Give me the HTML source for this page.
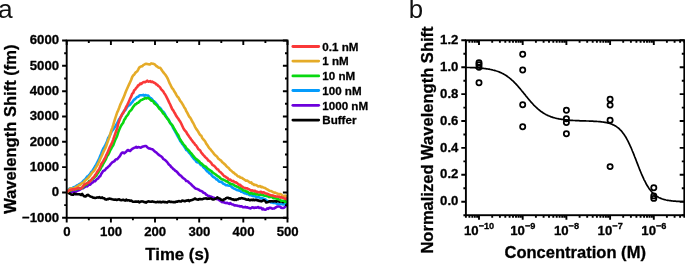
<!DOCTYPE html>
<html><head><meta charset="utf-8"><title>Figure</title>
<style>
html,body{margin:0;padding:0;background:#fff;}
body{width:685px;height:264px;overflow:hidden;font-family:"Liberation Sans",sans-serif;}
svg{display:block;will-change:transform;}
</style></head><body>
<svg width="685" height="264" viewBox="0 0 685 264" font-family="'Liberation Sans', sans-serif">
<rect width="685" height="264" fill="#ffffff"/>
<text x="-1.9" y="17.9" font-size="26.3" fill="#111">a</text>
<text x="408.8" y="18.4" font-size="25.8" fill="#111">b</text>
<defs><clipPath id="ca"><rect x="66.7" y="40.5" width="221.4" height="177.3"/></clipPath></defs>
<g fill="none" stroke-width="2.6" stroke-linejoin="round" stroke-linecap="round" clip-path="url(#ca)">
<path d="M67.2,192.0 L68.2,191.9 L69.2,192.0 L70.2,192.1 L71.2,191.7 L72.2,191.9 L73.2,191.8 L74.2,191.2 L75.2,191.8 L76.2,191.5 L77.2,190.8 L78.2,190.4 L79.2,190.1 L80.2,189.4 L81.2,188.9 L82.2,188.0 L83.2,188.1 L84.2,187.4 L85.2,186.9 L86.2,185.8 L87.2,186.3 L88.2,185.3 L89.2,184.5 L90.2,184.7 L91.2,183.5 L92.2,182.5 L93.2,182.2 L94.2,180.9 L95.2,181.1 L96.2,179.8 L97.2,178.8 L98.2,178.5 L99.2,176.6 L100.2,176.2 L101.2,174.0 L102.2,172.6 L103.2,170.9 L104.2,170.6 L105.2,169.9 L106.2,168.4 L107.2,167.8 L108.2,166.7 L109.2,166.0 L110.2,164.7 L111.2,163.5 L112.2,162.3 L113.2,161.8 L114.2,161.4 L115.2,160.1 L116.2,159.3 L117.2,159.3 L118.2,158.0 L119.2,156.9 L120.2,155.5 L121.2,153.7 L122.2,152.6 L123.2,152.5 L124.2,153.4 L125.2,152.5 L126.2,151.7 L127.2,150.5 L128.2,150.0 L129.2,150.8 L130.2,151.0 L131.2,149.7 L132.2,148.9 L133.2,148.3 L134.2,147.8 L135.2,147.6 L136.2,146.9 L137.2,147.6 L138.2,147.1 L139.2,147.3 L140.2,147.6 L141.2,147.5 L142.2,146.7 L143.2,146.4 L144.2,146.2 L145.2,146.0 L146.2,146.0 L147.2,147.3 L148.2,148.0 L149.2,148.5 L150.2,148.6 L151.2,149.0 L152.2,149.2 L153.2,149.8 L154.2,151.0 L155.2,151.8 L156.2,152.4 L157.2,153.4 L158.2,154.4 L159.2,155.1 L160.2,155.8 L161.2,156.3 L162.2,157.3 L163.2,158.9 L164.2,159.5 L165.2,160.1 L166.2,161.1 L167.2,162.1 L168.2,163.6 L169.2,164.8 L170.2,165.5 L171.2,167.2 L172.2,167.7 L173.2,169.1 L174.2,169.5 L175.2,170.8 L176.2,171.2 L177.2,172.2 L178.2,173.4 L179.2,174.6 L180.2,175.4 L181.2,175.9 L182.2,177.3 L183.2,178.1 L184.2,178.8 L185.2,179.5 L186.2,180.9 L187.2,181.0 L188.2,181.6 L189.2,182.8 L190.2,183.5 L191.2,184.4 L192.2,185.6 L193.2,186.4 L194.2,187.3 L195.2,188.3 L196.2,188.7 L197.2,188.9 L198.2,189.5 L199.2,190.0 L200.2,190.8 L201.2,191.0 L202.2,191.4 L203.2,192.6 L204.2,192.9 L205.2,193.4 L206.2,194.8 L207.2,195.1 L208.2,196.0 L209.2,196.1 L210.2,196.4 L211.2,196.7 L212.2,197.3 L213.2,197.7 L214.2,197.8 L215.2,198.3 L216.2,198.4 L217.2,199.2 L218.2,199.1 L219.2,200.1 L220.2,200.8 L221.2,201.4 L222.2,202.1 L223.2,201.5 L224.2,202.5 L225.2,202.9 L226.2,203.1 L227.2,202.8 L228.2,203.4 L229.2,203.9 L230.2,203.1 L231.2,203.9 L232.2,204.5 L233.2,204.5 L234.2,205.4 L235.2,205.3 L236.2,205.5 L237.2,205.6 L238.2,206.0 L239.2,206.0 L240.2,206.5 L241.2,206.2 L242.2,206.7 L243.2,207.3 L244.2,207.3 L245.2,206.8 L246.2,207.5 L247.2,207.3 L248.2,207.7 L249.2,208.0 L250.2,208.4 L251.2,208.1 L252.2,207.4 L253.2,207.5 L254.2,208.0 L255.2,207.6 L256.2,207.8 L257.2,207.4 L258.2,207.1 L259.2,207.9 L260.2,207.8 L261.2,207.8 L262.2,209.4 L263.2,208.6 L264.2,209.6 L265.2,209.8 L266.2,209.3 L267.2,208.3 L268.2,208.8 L269.2,207.8 L270.2,207.8 L271.2,208.1 L272.2,208.6 L273.2,208.5 L274.2,208.5 L275.2,207.7 L276.2,207.3 L277.2,206.6 L278.2,206.4 L279.2,206.6 L280.2,206.8 L281.2,207.7 L282.2,208.0 L283.2,208.0 L284.2,207.6 L285.2,206.6 L286.2,206.0 L287.2,205.3" stroke="#6C00DC"/>
<path d="M67.2,192.0 L68.2,190.0 L69.2,188.9 L70.2,188.2 L71.2,188.3 L72.2,188.3 L73.2,187.5 L74.2,187.1 L75.2,186.8 L76.2,186.0 L77.2,185.2 L78.2,185.0 L79.2,184.1 L80.2,183.6 L81.2,183.1 L82.2,182.3 L83.2,181.0 L84.2,180.1 L85.2,179.4 L86.2,178.2 L87.2,176.5 L88.2,176.3 L89.2,174.8 L90.2,173.8 L91.2,172.0 L92.2,171.5 L93.2,169.4 L94.2,168.0 L95.2,166.1 L96.2,164.7 L97.2,162.7 L98.2,160.7 L99.2,158.7 L100.2,156.0 L101.2,153.7 L102.2,151.0 L103.2,148.8 L104.2,147.2 L105.2,145.4 L106.2,143.4 L107.2,141.0 L108.2,138.0 L109.2,136.5 L110.2,134.7 L111.2,132.4 L112.2,130.7 L113.2,129.6 L114.2,127.9 L115.2,126.7 L116.2,124.7 L117.2,123.2 L118.2,121.1 L119.2,119.0 L120.2,117.8 L121.2,116.3 L122.2,114.3 L123.2,112.7 L124.2,110.7 L125.2,110.3 L126.2,108.7 L127.2,107.0 L128.2,105.9 L129.2,105.2 L130.2,104.4 L131.2,103.1 L132.2,102.2 L133.2,100.7 L134.2,99.5 L135.2,99.0 L136.2,97.9 L137.2,97.0 L138.2,96.8 L139.2,95.6 L140.2,95.2 L141.2,95.2 L142.2,95.2 L143.2,94.9 L144.2,95.6 L145.2,95.0 L146.2,95.3 L147.2,95.5 L148.2,95.6 L149.2,96.8 L150.2,97.8 L151.2,98.4 L152.2,99.4 L153.2,101.0 L154.2,101.3 L155.2,102.3 L156.2,103.7 L157.2,104.7 L158.2,106.5 L159.2,107.3 L160.2,108.1 L161.2,109.3 L162.2,111.5 L163.2,111.6 L164.2,112.8 L165.2,114.6 L166.2,116.4 L167.2,118.0 L168.2,119.3 L169.2,120.8 L170.2,122.9 L171.2,124.3 L172.2,125.5 L173.2,128.2 L174.2,129.9 L175.2,131.5 L176.2,133.3 L177.2,135.4 L178.2,137.1 L179.2,138.8 L180.2,141.1 L181.2,142.1 L182.2,144.0 L183.2,144.8 L184.2,146.6 L185.2,148.0 L186.2,150.0 L187.2,150.4 L188.2,151.5 L189.2,152.9 L190.2,153.9 L191.2,155.2 L192.2,156.7 L193.2,157.9 L194.2,159.3 L195.2,159.7 L196.2,161.7 L197.2,162.3 L198.2,162.6 L199.2,162.8 L200.2,164.4 L201.2,165.3 L202.2,165.4 L203.2,167.1 L204.2,168.0 L205.2,168.8 L206.2,170.2 L207.2,171.4 L208.2,171.9 L209.2,173.1 L210.2,173.8 L211.2,174.6 L212.2,175.8 L213.2,176.9 L214.2,177.5 L215.2,177.9 L216.2,179.4 L217.2,179.4 L218.2,180.6 L219.2,181.7 L220.2,181.8 L221.2,182.0 L222.2,182.5 L223.2,183.8 L224.2,184.0 L225.2,184.7 L226.2,185.3 L227.2,185.3 L228.2,185.6 L229.2,185.8 L230.2,185.6 L231.2,186.6 L232.2,187.5 L233.2,188.0 L234.2,188.7 L235.2,189.0 L236.2,189.6 L237.2,190.2 L238.2,190.1 L239.2,190.7 L240.2,190.7 L241.2,191.8 L242.2,191.9 L243.2,192.5 L244.2,193.1 L245.2,193.4 L246.2,193.5 L247.2,194.1 L248.2,193.9 L249.2,194.9 L250.2,195.2 L251.2,194.9 L252.2,196.0 L253.2,195.7 L254.2,196.3 L255.2,196.3 L256.2,197.0 L257.2,197.4 L258.2,197.1 L259.2,197.3 L260.2,197.9 L261.2,198.4 L262.2,198.1 L263.2,198.4 L264.2,199.4 L265.2,199.1 L266.2,200.4 L267.2,200.7 L268.2,201.7 L269.2,201.8 L270.2,202.0 L271.2,202.5 L272.2,202.3 L273.2,202.9 L274.2,202.9 L275.2,203.1 L276.2,203.2 L277.2,203.8 L278.2,203.7 L279.2,204.0 L280.2,204.1 L281.2,203.9 L282.2,204.3 L283.2,204.4 L284.2,204.4 L285.2,204.3 L286.2,204.3 L287.2,204.7" stroke="#049CFC"/>
<path d="M67.2,192.0 L68.2,192.4 L69.2,193.4 L70.2,193.7 L71.2,194.5 L72.2,194.7 L73.2,194.8 L74.2,193.5 L75.2,194.1 L76.2,194.0 L77.2,194.3 L78.2,194.2 L79.2,194.2 L80.2,194.5 L81.2,195.0 L82.2,194.0 L83.2,195.4 L84.2,196.3 L85.2,196.5 L86.2,196.0 L87.2,195.0 L88.2,194.9 L89.2,195.7 L90.2,196.4 L91.2,196.8 L92.2,197.1 L93.2,197.7 L94.2,197.7 L95.2,198.0 L96.2,197.8 L97.2,197.4 L98.2,197.6 L99.2,197.1 L100.2,197.7 L101.2,197.9 L102.2,197.4 L103.2,198.2 L104.2,198.2 L105.2,199.3 L106.2,199.6 L107.2,199.1 L108.2,199.2 L109.2,198.6 L110.2,198.7 L111.2,199.0 L112.2,199.3 L113.2,199.5 L114.2,199.7 L115.2,199.5 L116.2,199.9 L117.2,199.9 L118.2,199.5 L119.2,199.3 L120.2,200.1 L121.2,200.3 L122.2,200.0 L123.2,199.7 L124.2,200.2 L125.2,200.6 L126.2,199.6 L127.2,200.4 L128.2,200.3 L129.2,200.3 L130.2,200.9 L131.2,200.5 L132.2,201.3 L133.2,201.8 L134.2,201.7 L135.2,201.6 L136.2,201.5 L137.2,201.7 L138.2,201.4 L139.2,202.4 L140.2,201.8 L141.2,201.5 L142.2,201.4 L143.2,201.6 L144.2,202.1 L145.2,202.0 L146.2,202.7 L147.2,201.7 L148.2,201.4 L149.2,201.5 L150.2,201.8 L151.2,201.8 L152.2,201.4 L153.2,201.8 L154.2,201.9 L155.2,202.1 L156.2,202.2 L157.2,201.9 L158.2,201.9 L159.2,202.2 L160.2,201.7 L161.2,202.4 L162.2,202.0 L163.2,201.7 L164.2,202.1 L165.2,202.1 L166.2,202.3 L167.2,202.5 L168.2,201.6 L169.2,201.4 L170.2,202.0 L171.2,201.8 L172.2,202.0 L173.2,202.1 L174.2,202.0 L175.2,202.3 L176.2,201.6 L177.2,201.7 L178.2,201.3 L179.2,201.1 L180.2,201.5 L181.2,201.4 L182.2,200.6 L183.2,200.7 L184.2,201.1 L185.2,201.2 L186.2,200.6 L187.2,200.6 L188.2,200.1 L189.2,201.1 L190.2,200.4 L191.2,200.3 L192.2,199.9 L193.2,199.6 L194.2,199.0 L195.2,198.5 L196.2,199.2 L197.2,199.4 L198.2,199.8 L199.2,199.1 L200.2,199.0 L201.2,199.3 L202.2,199.3 L203.2,198.9 L204.2,198.5 L205.2,198.5 L206.2,198.3 L207.2,198.9 L208.2,198.5 L209.2,198.6 L210.2,198.5 L211.2,198.5 L212.2,199.2 L213.2,199.5 L214.2,199.2 L215.2,198.8 L216.2,198.4 L217.2,197.4 L218.2,198.1 L219.2,198.4 L220.2,198.9 L221.2,199.8 L222.2,200.0 L223.2,200.2 L224.2,199.2 L225.2,198.9 L226.2,198.1 L227.2,197.7 L228.2,197.7 L229.2,198.5 L230.2,198.2 L231.2,199.0 L232.2,199.4 L233.2,199.2 L234.2,200.0 L235.2,199.6 L236.2,199.9 L237.2,199.2 L238.2,199.3 L239.2,198.4 L240.2,198.6 L241.2,198.1 L242.2,198.2 L243.2,198.6 L244.2,198.8 L245.2,199.0 L246.2,199.5 L247.2,199.8 L248.2,199.3 L249.2,200.1 L250.2,200.2 L251.2,199.8 L252.2,200.1 L253.2,199.5 L254.2,200.3 L255.2,199.8 L256.2,199.9 L257.2,200.4 L258.2,200.2 L259.2,200.9 L260.2,200.9 L261.2,201.4 L262.2,201.0 L263.2,200.4 L264.2,200.4 L265.2,201.0 L266.2,202.4 L267.2,202.2 L268.2,201.9 L269.2,201.4 L270.2,201.4 L271.2,201.3 L272.2,201.3 L273.2,201.5 L274.2,201.3 L275.2,201.3 L276.2,201.6 L277.2,201.0 L278.2,201.2 L279.2,201.7 L280.2,201.4 L281.2,201.6 L282.2,201.4 L283.2,202.2 L284.2,201.1 L285.2,201.6 L286.2,201.7 L287.2,202.6" stroke="#000000"/>
<path d="M67.2,192.0 L68.2,191.4 L69.2,190.6 L70.2,190.6 L71.2,190.3 L72.2,189.8 L73.2,189.3 L74.2,189.2 L75.2,189.4 L76.2,189.3 L77.2,189.0 L78.2,188.7 L79.2,188.1 L80.2,188.5 L81.2,188.0 L82.2,187.9 L83.2,187.1 L84.2,185.7 L85.2,184.8 L86.2,184.7 L87.2,183.8 L88.2,182.7 L89.2,181.0 L90.2,180.9 L91.2,180.0 L92.2,179.4 L93.2,178.4 L94.2,177.7 L95.2,176.6 L96.2,175.8 L97.2,173.8 L98.2,172.6 L99.2,170.8 L100.2,169.5 L101.2,167.2 L102.2,166.0 L103.2,163.8 L104.2,162.0 L105.2,160.3 L106.2,158.4 L107.2,155.7 L108.2,154.8 L109.2,152.7 L110.2,150.2 L111.2,148.7 L112.2,146.7 L113.2,145.2 L114.2,142.5 L115.2,140.0 L116.2,138.0 L117.2,135.7 L118.2,132.3 L119.2,129.8 L120.2,127.5 L121.2,125.5 L122.2,124.0 L123.2,122.7 L124.2,119.8 L125.2,118.6 L126.2,116.6 L127.2,115.6 L128.2,114.2 L129.2,112.0 L130.2,110.9 L131.2,110.1 L132.2,108.5 L133.2,106.9 L134.2,105.7 L135.2,104.3 L136.2,104.2 L137.2,102.9 L138.2,102.7 L139.2,101.8 L140.2,100.7 L141.2,100.0 L142.2,99.8 L143.2,99.1 L144.2,98.7 L145.2,97.9 L146.2,98.5 L147.2,98.1 L148.2,97.9 L149.2,98.8 L150.2,99.6 L151.2,100.6 L152.2,100.5 L153.2,101.2 L154.2,103.3 L155.2,103.8 L156.2,104.8 L157.2,105.6 L158.2,106.8 L159.2,108.7 L160.2,109.3 L161.2,110.5 L162.2,111.7 L163.2,113.5 L164.2,114.1 L165.2,115.8 L166.2,117.1 L167.2,118.5 L168.2,119.5 L169.2,121.4 L170.2,123.1 L171.2,124.0 L172.2,125.2 L173.2,126.7 L174.2,128.8 L175.2,130.4 L176.2,132.1 L177.2,133.8 L178.2,135.0 L179.2,137.5 L180.2,139.4 L181.2,141.0 L182.2,142.4 L183.2,144.0 L184.2,145.1 L185.2,146.1 L186.2,148.1 L187.2,148.9 L188.2,150.0 L189.2,150.9 L190.2,152.5 L191.2,153.3 L192.2,154.6 L193.2,156.0 L194.2,157.0 L195.2,158.3 L196.2,159.1 L197.2,159.7 L198.2,160.6 L199.2,161.4 L200.2,162.7 L201.2,163.4 L202.2,164.1 L203.2,165.3 L204.2,165.9 L205.2,166.5 L206.2,167.0 L207.2,168.3 L208.2,169.0 L209.2,169.7 L210.2,170.4 L211.2,171.0 L212.2,172.0 L213.2,172.9 L214.2,173.5 L215.2,174.2 L216.2,174.9 L217.2,175.8 L218.2,176.5 L219.2,176.9 L220.2,178.1 L221.2,178.8 L222.2,179.4 L223.2,179.6 L224.2,180.2 L225.2,180.4 L226.2,181.5 L227.2,181.2 L228.2,182.3 L229.2,182.8 L230.2,183.7 L231.2,184.0 L232.2,184.2 L233.2,184.5 L234.2,185.2 L235.2,185.9 L236.2,186.3 L237.2,186.7 L238.2,187.1 L239.2,187.7 L240.2,188.5 L241.2,188.4 L242.2,189.3 L243.2,190.4 L244.2,190.6 L245.2,190.8 L246.2,191.6 L247.2,191.6 L248.2,192.3 L249.2,193.2 L250.2,193.6 L251.2,192.7 L252.2,193.5 L253.2,194.0 L254.2,193.4 L255.2,193.8 L256.2,194.4 L257.2,194.1 L258.2,194.7 L259.2,194.8 L260.2,194.4 L261.2,195.0 L262.2,194.8 L263.2,195.1 L264.2,195.7 L265.2,195.7 L266.2,195.7 L267.2,196.3 L268.2,196.5 L269.2,197.1 L270.2,196.7 L271.2,197.0 L272.2,197.0 L273.2,198.1 L274.2,198.1 L275.2,198.2 L276.2,198.5 L277.2,198.9 L278.2,199.2 L279.2,199.7 L280.2,200.0 L281.2,200.9 L282.2,200.8 L283.2,200.8 L284.2,201.1 L285.2,201.9 L286.2,201.9" stroke="#08D810"/>
<path d="M67.2,192.0 L68.2,190.7 L69.2,189.9 L70.2,188.6 L71.2,188.6 L72.2,188.4 L73.2,188.9 L74.2,188.2 L75.2,187.5 L76.2,186.8 L77.2,186.7 L78.2,185.8 L79.2,185.1 L80.2,185.0 L81.2,183.7 L82.2,183.0 L83.2,183.3 L84.2,181.5 L85.2,180.6 L86.2,179.6 L87.2,178.7 L88.2,177.9 L89.2,176.7 L90.2,175.4 L91.2,174.0 L92.2,172.5 L93.2,171.7 L94.2,170.6 L95.2,169.0 L96.2,167.0 L97.2,165.6 L98.2,163.4 L99.2,161.5 L100.2,159.0 L101.2,157.0 L102.2,154.8 L103.2,152.4 L104.2,150.4 L105.2,148.5 L106.2,146.0 L107.2,143.0 L108.2,140.3 L109.2,137.6 L110.2,134.3 L111.2,130.8 L112.2,128.1 L113.2,125.2 L114.2,121.7 L115.2,118.3 L116.2,115.3 L117.2,112.3 L118.2,110.3 L119.2,107.7 L120.2,104.9 L121.2,102.7 L122.2,100.6 L123.2,98.4 L124.2,96.1 L125.2,93.3 L126.2,90.7 L127.2,88.5 L128.2,86.3 L129.2,84.1 L130.2,82.0 L131.2,79.8 L132.2,77.0 L133.2,75.4 L134.2,74.7 L135.2,73.0 L136.2,72.0 L137.2,71.4 L138.2,69.6 L139.2,67.6 L140.2,66.9 L141.2,66.4 L142.2,66.3 L143.2,65.2 L144.2,64.7 L145.2,64.0 L146.2,63.7 L147.2,63.9 L148.2,64.3 L149.2,64.4 L150.2,64.5 L151.2,63.4 L152.2,63.6 L153.2,63.7 L154.2,64.1 L155.2,64.8 L156.2,66.0 L157.2,66.5 L158.2,67.4 L159.2,67.7 L160.2,67.8 L161.2,69.2 L162.2,70.8 L163.2,72.1 L164.2,73.4 L165.2,74.5 L166.2,76.0 L167.2,77.6 L168.2,79.8 L169.2,82.4 L170.2,84.3 L171.2,86.4 L172.2,88.3 L173.2,89.2 L174.2,91.3 L175.2,92.7 L176.2,94.7 L177.2,96.4 L178.2,97.2 L179.2,99.0 L180.2,100.8 L181.2,102.0 L182.2,103.6 L183.2,105.2 L184.2,107.3 L185.2,108.5 L186.2,111.0 L187.2,112.6 L188.2,114.6 L189.2,116.6 L190.2,117.7 L191.2,119.4 L192.2,121.5 L193.2,123.0 L194.2,125.0 L195.2,127.1 L196.2,128.9 L197.2,130.1 L198.2,131.7 L199.2,133.5 L200.2,135.1 L201.2,135.6 L202.2,138.0 L203.2,139.3 L204.2,140.2 L205.2,141.5 L206.2,143.6 L207.2,144.8 L208.2,146.5 L209.2,148.1 L210.2,149.0 L211.2,150.3 L212.2,151.5 L213.2,152.8 L214.2,154.1 L215.2,155.2 L216.2,155.9 L217.2,156.9 L218.2,158.7 L219.2,159.2 L220.2,160.1 L221.2,160.7 L222.2,162.2 L223.2,162.8 L224.2,163.9 L225.2,164.6 L226.2,165.8 L227.2,167.0 L228.2,167.6 L229.2,168.7 L230.2,170.0 L231.2,170.6 L232.2,171.6 L233.2,172.5 L234.2,173.0 L235.2,174.3 L236.2,174.5 L237.2,175.8 L238.2,176.5 L239.2,176.5 L240.2,177.5 L241.2,177.8 L242.2,178.1 L243.2,178.9 L244.2,179.4 L245.2,180.2 L246.2,180.8 L247.2,180.6 L248.2,181.3 L249.2,182.1 L250.2,182.8 L251.2,182.3 L252.2,183.9 L253.2,184.0 L254.2,185.0 L255.2,184.9 L256.2,185.1 L257.2,185.7 L258.2,186.4 L259.2,186.4 L260.2,186.0 L261.2,187.2 L262.2,186.9 L263.2,187.4 L264.2,187.8 L265.2,188.1 L266.2,188.8 L267.2,189.3 L268.2,189.9 L269.2,190.6 L270.2,191.0 L271.2,191.0 L272.2,191.6 L273.2,192.3 L274.2,192.6 L275.2,192.6 L276.2,193.1 L277.2,193.5 L278.2,193.9 L279.2,194.3 L280.2,194.0 L281.2,194.4 L282.2,195.4 L283.2,195.9 L284.2,196.3 L285.2,195.5 L286.2,196.6 L287.2,196.0" stroke="#E5AB28"/>
<path d="M67.2,192.0 L68.2,191.1 L69.2,190.4 L70.2,189.9 L71.2,190.0 L72.2,189.3 L73.2,189.6 L74.2,189.3 L75.2,189.1 L76.2,188.9 L77.2,188.5 L78.2,187.8 L79.2,188.4 L80.2,188.7 L81.2,188.3 L82.2,187.4 L83.2,186.2 L84.2,184.7 L85.2,184.3 L86.2,183.6 L87.2,183.0 L88.2,182.9 L89.2,182.0 L90.2,181.1 L91.2,180.0 L92.2,178.7 L93.2,177.5 L94.2,176.9 L95.2,174.8 L96.2,173.8 L97.2,171.9 L98.2,170.6 L99.2,168.8 L100.2,166.8 L101.2,164.3 L102.2,162.7 L103.2,161.4 L104.2,159.2 L105.2,157.7 L106.2,155.2 L107.2,153.5 L108.2,150.9 L109.2,148.6 L110.2,146.3 L111.2,144.5 L112.2,142.2 L113.2,139.6 L114.2,136.7 L115.2,133.9 L116.2,131.0 L117.2,128.1 L118.2,123.8 L119.2,121.0 L120.2,118.2 L121.2,116.1 L122.2,114.0 L123.2,113.0 L124.2,111.1 L125.2,109.1 L126.2,106.9 L127.2,105.1 L128.2,103.0 L129.2,100.9 L130.2,98.3 L131.2,96.5 L132.2,93.8 L133.2,93.0 L134.2,90.2 L135.2,89.5 L136.2,87.9 L137.2,87.1 L138.2,85.2 L139.2,85.2 L140.2,83.5 L141.2,84.0 L142.2,83.0 L143.2,82.3 L144.2,82.0 L145.2,82.2 L146.2,81.6 L147.2,80.7 L148.2,81.7 L149.2,81.5 L150.2,81.1 L151.2,82.0 L152.2,81.6 L153.2,82.3 L154.2,82.7 L155.2,83.1 L156.2,84.3 L157.2,84.7 L158.2,85.9 L159.2,86.5 L160.2,87.6 L161.2,89.4 L162.2,90.3 L163.2,91.4 L164.2,93.2 L165.2,94.5 L166.2,96.4 L167.2,98.4 L168.2,100.4 L169.2,102.6 L170.2,104.5 L171.2,106.9 L172.2,109.1 L173.2,110.4 L174.2,112.2 L175.2,113.8 L176.2,115.8 L177.2,117.4 L178.2,118.5 L179.2,120.3 L180.2,121.6 L181.2,123.5 L182.2,125.7 L183.2,127.8 L184.2,129.7 L185.2,130.8 L186.2,131.9 L187.2,133.9 L188.2,135.1 L189.2,136.7 L190.2,138.0 L191.2,139.5 L192.2,140.8 L193.2,142.2 L194.2,143.1 L195.2,144.8 L196.2,145.6 L197.2,147.1 L198.2,148.9 L199.2,149.7 L200.2,150.5 L201.2,152.5 L202.2,153.7 L203.2,154.9 L204.2,155.9 L205.2,157.1 L206.2,158.0 L207.2,158.9 L208.2,160.5 L209.2,160.9 L210.2,161.9 L211.2,162.9 L212.2,164.6 L213.2,165.3 L214.2,165.9 L215.2,167.0 L216.2,168.2 L217.2,169.3 L218.2,169.6 L219.2,171.3 L220.2,172.0 L221.2,172.8 L222.2,173.8 L223.2,175.0 L224.2,176.1 L225.2,176.4 L226.2,177.4 L227.2,177.7 L228.2,178.9 L229.2,179.7 L230.2,179.6 L231.2,180.4 L232.2,181.2 L233.2,180.9 L234.2,181.7 L235.2,182.5 L236.2,182.4 L237.2,183.3 L238.2,184.1 L239.2,184.9 L240.2,184.8 L241.2,186.2 L242.2,186.5 L243.2,187.4 L244.2,187.8 L245.2,188.0 L246.2,188.5 L247.2,188.3 L248.2,188.9 L249.2,189.4 L250.2,190.0 L251.2,190.7 L252.2,190.2 L253.2,190.9 L254.2,190.8 L255.2,190.9 L256.2,192.0 L257.2,191.7 L258.2,192.3 L259.2,192.3 L260.2,191.8 L261.2,191.7 L262.2,193.0 L263.2,192.4 L264.2,192.5 L265.2,193.4 L266.2,193.6 L267.2,193.8 L268.2,194.2 L269.2,194.8 L270.2,195.1 L271.2,195.5 L272.2,195.4 L273.2,195.6 L274.2,196.1 L275.2,196.2 L276.2,196.6 L277.2,196.4 L278.2,196.7 L279.2,196.6 L280.2,197.6 L281.2,197.0 L282.2,197.7 L283.2,197.7 L284.2,198.3 L285.2,198.8 L286.2,198.3 L287.2,199.0" stroke="#FA3838"/>
</g>
<g stroke="#000" stroke-width="1.90" fill="none" stroke-linecap="butt">
<rect x="66.7" y="40.5" width="220.8" height="177.3"/>
<path d="M66.7,217.8 v4.6 M66.7,40.5 v4.6 M88.8,217.8 v2.5 M88.8,40.5 v2.5 M110.9,217.8 v4.6 M110.9,40.5 v4.6 M132.9,217.8 v2.5 M132.9,40.5 v2.5 M155.0,217.8 v4.6 M155.0,40.5 v4.6 M177.1,217.8 v2.5 M177.1,40.5 v2.5 M199.2,217.8 v4.6 M199.2,40.5 v4.6 M221.3,217.8 v2.5 M221.3,40.5 v2.5 M243.3,217.8 v4.6 M243.3,40.5 v4.6 M265.4,217.8 v2.5 M265.4,40.5 v2.5 M287.5,217.8 v4.6 M287.5,40.5 v4.6 M66.7,217.8 h-4.6 M287.5,217.8 h-4.6 M66.7,205.1 h-2.5 M287.5,205.1 h-2.5 M66.7,192.5 h-4.6 M287.5,192.5 h-4.6 M66.7,179.8 h-2.5 M287.5,179.8 h-2.5 M66.7,167.1 h-4.6 M287.5,167.1 h-4.6 M66.7,154.5 h-2.5 M287.5,154.5 h-2.5 M66.7,141.8 h-4.6 M287.5,141.8 h-4.6 M66.7,129.2 h-2.5 M287.5,129.2 h-2.5 M66.7,116.5 h-4.6 M287.5,116.5 h-4.6 M66.7,103.8 h-2.5 M287.5,103.8 h-2.5 M66.7,91.2 h-4.6 M287.5,91.2 h-4.6 M66.7,78.5 h-2.5 M287.5,78.5 h-2.5 M66.7,65.8 h-4.6 M287.5,65.8 h-4.6 M66.7,53.2 h-2.5 M287.5,53.2 h-2.5 M66.7,40.5 h-4.6 M287.5,40.5 h-4.6"/>
</g>
<g font-size="13.2" font-weight="bold" fill="#000" stroke="#000" stroke-width="0.3" stroke-linejoin="round">
<text x="59.1" y="221.5" text-anchor="end">−1000</text>
<text x="59.1" y="196.2" text-anchor="end">0</text>
<text x="59.1" y="170.8" text-anchor="end">1000</text>
<text x="59.1" y="145.5" text-anchor="end">2000</text>
<text x="59.1" y="120.2" text-anchor="end">3000</text>
<text x="59.1" y="94.9" text-anchor="end">4000</text>
<text x="59.1" y="69.5" text-anchor="end">5000</text>
<text x="59.1" y="44.2" text-anchor="end">6000</text>
<text x="66.9" y="235.9" text-anchor="middle">0</text>
<text x="111.1" y="235.9" text-anchor="middle">100</text>
<text x="155.2" y="235.9" text-anchor="middle">200</text>
<text x="199.4" y="235.9" text-anchor="middle">300</text>
<text x="243.5" y="235.9" text-anchor="middle">400</text>
<text x="287.7" y="235.9" text-anchor="middle">500</text>
</g>
<g font-size="16.55" font-weight="bold" fill="#000" stroke="#000" stroke-width="0.3" stroke-linejoin="round">
<text x="177.3" y="260.4" text-anchor="middle" font-size="16.8">Time (s)</text>
<text transform="translate(15.7,129.2) rotate(-90)" text-anchor="middle">Wavelength Shift (fm)</text>
</g>
<g stroke-width="2.85" stroke-linecap="round" fill="none">
<path d="M292.9,46.5 H318.7" stroke="#FA3838"/>
<path d="M292.9,61.1 H318.7" stroke="#E5AB28"/>
<path d="M292.9,75.9 H318.7" stroke="#08D810"/>
<path d="M292.9,90.5 H318.7" stroke="#049CFC"/>
<path d="M292.9,105.3 H318.7" stroke="#6C00DC"/>
<path d="M292.9,120.1 H318.7" stroke="#000000"/>
</g>
<g font-size="11.6" font-weight="bold" fill="#000" stroke="#000" stroke-width="0.3" stroke-linejoin="round">
<text x="322.3" y="50.7">0.1 nM</text>
<text x="322.3" y="65.3">1 nM</text>
<text x="322.3" y="80.1">10 nM</text>
<text x="322.3" y="94.7">100 nM</text>
<text x="322.3" y="109.5">1000 nM</text>
<text x="322.3" y="124.3">Buffer</text>
</g>
<defs><clipPath id="cb"><rect x="465.9" y="40.3" width="218.4" height="174.9"/></clipPath></defs>
<path d="M465.9,67.4 L466.6,67.5 L467.4,67.5 L468.1,67.5 L468.8,67.5 L469.6,67.5 L470.3,67.6 L471.0,67.6 L471.7,67.6 L472.5,67.6 L473.2,67.7 L473.9,67.7 L474.7,67.7 L475.4,67.8 L476.1,67.8 L476.9,67.9 L477.6,67.9 L478.3,68.0 L479.0,68.0 L479.8,68.1 L480.5,68.1 L481.2,68.2 L482.0,68.3 L482.7,68.3 L483.4,68.4 L484.2,68.5 L484.9,68.6 L485.6,68.7 L486.4,68.8 L487.1,68.9 L487.8,69.0 L488.5,69.1 L489.3,69.2 L490.0,69.4 L490.7,69.5 L491.5,69.7 L492.2,69.8 L492.9,70.0 L493.7,70.2 L494.4,70.4 L495.1,70.6 L495.8,70.8 L496.6,71.0 L497.3,71.3 L498.0,71.5 L498.8,71.8 L499.5,72.1 L500.2,72.4 L501.0,72.7 L501.7,73.1 L502.4,73.4 L503.2,73.8 L503.9,74.2 L504.6,74.6 L505.3,75.1 L506.1,75.5 L506.8,76.0 L507.5,76.5 L508.3,77.1 L509.0,77.6 L509.7,78.2 L510.5,78.8 L511.2,79.4 L511.9,80.1 L512.6,80.7 L513.4,81.4 L514.1,82.1 L514.8,82.9 L515.6,83.6 L516.3,84.4 L517.0,85.2 L517.8,86.0 L518.5,86.9 L519.2,87.7 L520.0,88.6 L520.7,89.5 L521.4,90.3 L522.1,91.2 L522.9,92.1 L523.6,93.0 L524.3,93.9 L525.1,94.8 L525.8,95.8 L526.5,96.7 L527.3,97.5 L528.0,98.4 L528.7,99.3 L529.4,100.2 L530.2,101.0 L530.9,101.9 L531.6,102.7 L532.4,103.5 L533.1,104.3 L533.8,105.1 L534.6,105.8 L535.3,106.5 L536.0,107.2 L536.8,107.9 L537.5,108.6 L538.2,109.2 L538.9,109.8 L539.7,110.4 L540.4,111.0 L541.1,111.5 L541.9,112.0 L542.6,112.5 L543.3,113.0 L544.1,113.4 L544.8,113.9 L545.5,114.3 L546.2,114.7 L547.0,115.0 L547.7,115.4 L548.4,115.7 L549.2,116.0 L549.9,116.3 L550.6,116.6 L551.4,116.9 L552.1,117.1 L552.8,117.4 L553.6,117.6 L554.3,117.8 L555.0,118.0 L555.7,118.2 L556.5,118.4 L557.2,118.5 L557.9,118.7 L558.7,118.8 L559.4,119.0 L560.1,119.1 L560.9,119.2 L561.6,119.3 L562.3,119.4 L563.0,119.5 L563.8,119.6 L564.5,119.7 L565.2,119.8 L566.0,119.9 L566.7,120.0 L567.4,120.0 L568.2,120.1 L568.9,120.2 L569.6,120.2 L570.4,120.3 L571.1,120.3 L571.8,120.4 L572.5,120.4 L573.3,120.5 L574.0,120.5 L574.7,120.5 L575.5,120.6 L576.2,120.6 L576.9,120.6 L577.7,120.7 L578.4,120.7 L579.1,120.7 L579.8,120.8 L580.6,120.8 L581.3,120.8 L582.0,120.8 L582.8,120.9 L583.5,120.9 L584.2,120.9 L585.0,120.9 L585.7,120.9 L586.4,121.0 L587.2,121.0 L587.9,121.0 L588.6,121.0 L589.3,121.1 L590.1,121.1 L590.8,121.1 L591.5,121.2 L592.3,121.2 L593.0,121.2 L593.7,121.3 L594.5,121.3 L595.2,121.3 L595.9,121.4 L596.6,121.4 L597.4,121.5 L598.1,121.5 L598.8,121.6 L599.6,121.6 L600.3,121.7 L601.0,121.8 L601.8,121.9 L602.5,122.0 L603.2,122.1 L604.0,122.2 L604.7,122.3 L605.4,122.4 L606.1,122.6 L606.9,122.7 L607.6,122.9 L608.3,123.1 L609.1,123.3 L609.8,123.5 L610.5,123.7 L611.3,124.0 L612.0,124.3 L612.7,124.6 L613.4,124.9 L614.2,125.3 L614.9,125.7 L615.6,126.1 L616.4,126.6 L617.1,127.1 L617.8,127.6 L618.6,128.2 L619.3,128.9 L620.0,129.6 L620.8,130.3 L621.5,131.1 L622.2,132.0 L622.9,132.9 L623.7,133.9 L624.4,135.0 L625.1,136.1 L625.9,137.3 L626.6,138.6 L627.3,139.9 L628.1,141.3 L628.8,142.8 L629.5,144.3 L630.2,145.9 L631.0,147.5 L631.7,149.2 L632.4,151.0 L633.2,152.8 L633.9,154.6 L634.6,156.5 L635.4,158.4 L636.1,160.3 L636.8,162.2 L637.6,164.1 L638.3,166.0 L639.0,167.8 L639.7,169.7 L640.5,171.5 L641.2,173.2 L641.9,175.0 L642.7,176.6 L643.4,178.2 L644.1,179.8 L644.9,181.2 L645.6,182.6 L646.3,184.0 L647.0,185.3 L647.8,186.5 L648.5,187.6 L649.2,188.7 L650.0,189.7 L650.7,190.6 L651.4,191.5 L652.2,192.3 L652.9,193.1 L653.6,193.8 L654.4,194.4 L655.1,195.0 L655.8,195.6 L656.5,196.1 L657.3,196.6 L658.0,197.0 L658.7,197.4 L659.5,197.8 L660.2,198.1 L660.9,198.4 L661.7,198.7 L662.4,199.0 L663.1,199.2 L663.8,199.4 L664.6,199.6 L665.3,199.8 L666.0,200.0 L666.8,200.2 L667.5,200.3 L668.2,200.4 L669.0,200.5 L669.7,200.6 L670.4,200.7 L671.2,200.8 L671.9,200.9 L672.6,201.0 L673.3,201.1 L674.1,201.1 L674.8,201.2 L675.5,201.2 L676.3,201.3 L677.0,201.3 L677.7,201.4 L678.5,201.4 L679.2,201.4 L679.9,201.5 L680.6,201.5 L681.4,201.5 L682.1,201.5 L682.8,201.5 L683.6,201.6 L684.3,201.6" fill="none" stroke="#000" stroke-width="1.7" clip-path="url(#cb)"/>
<g stroke="#000" stroke-width="1.90" fill="none">
<rect x="465.9" y="40.3" width="218.4" height="174.9"/>
<path d="M465.9,215.2 v2.5 M465.9,40.3 v2.5 M469.4,215.2 v2.5 M469.4,40.3 v2.5 M472.3,215.2 v2.5 M472.3,40.3 v2.5 M474.8,215.2 v2.5 M474.8,40.3 v2.5 M477.1,215.2 v2.5 M477.1,40.3 v2.5 M479.0,215.2 v4.6 M479.0,40.3 v4.6 M492.2,215.2 v2.5 M492.2,40.3 v2.5 M499.9,215.2 v2.5 M499.9,40.3 v2.5 M505.3,215.2 v2.5 M505.3,40.3 v2.5 M509.6,215.2 v2.5 M509.6,40.3 v2.5 M513.0,215.2 v2.5 M513.0,40.3 v2.5 M516.0,215.2 v2.5 M516.0,40.3 v2.5 M518.5,215.2 v2.5 M518.5,40.3 v2.5 M520.7,215.2 v2.5 M520.7,40.3 v2.5 M522.7,215.2 v4.6 M522.7,40.3 v4.6 M535.9,215.2 v2.5 M535.9,40.3 v2.5 M543.6,215.2 v2.5 M543.6,40.3 v2.5 M549.0,215.2 v2.5 M549.0,40.3 v2.5 M553.3,215.2 v2.5 M553.3,40.3 v2.5 M556.7,215.2 v2.5 M556.7,40.3 v2.5 M559.6,215.2 v2.5 M559.6,40.3 v2.5 M562.2,215.2 v2.5 M562.2,40.3 v2.5 M564.4,215.2 v2.5 M564.4,40.3 v2.5 M566.4,215.2 v4.6 M566.4,40.3 v4.6 M579.6,215.2 v2.5 M579.6,40.3 v2.5 M587.2,215.2 v2.5 M587.2,40.3 v2.5 M592.7,215.2 v2.5 M592.7,40.3 v2.5 M596.9,215.2 v2.5 M596.9,40.3 v2.5 M600.4,215.2 v2.5 M600.4,40.3 v2.5 M603.3,215.2 v2.5 M603.3,40.3 v2.5 M605.9,215.2 v2.5 M605.9,40.3 v2.5 M608.1,215.2 v2.5 M608.1,40.3 v2.5 M610.1,215.2 v4.6 M610.1,40.3 v4.6 M623.2,215.2 v2.5 M623.2,40.3 v2.5 M630.9,215.2 v2.5 M630.9,40.3 v2.5 M636.4,215.2 v2.5 M636.4,40.3 v2.5 M640.6,215.2 v2.5 M640.6,40.3 v2.5 M644.1,215.2 v2.5 M644.1,40.3 v2.5 M647.0,215.2 v2.5 M647.0,40.3 v2.5 M649.5,215.2 v2.5 M649.5,40.3 v2.5 M651.8,215.2 v2.5 M651.8,40.3 v2.5 M653.8,215.2 v4.6 M653.8,40.3 v4.6 M666.9,215.2 v2.5 M666.9,40.3 v2.5 M674.6,215.2 v2.5 M674.6,40.3 v2.5 M680.1,215.2 v2.5 M680.1,40.3 v2.5 M684.3,215.2 v2.5 M684.3,40.3 v2.5 M465.9,215.2 h-2.5 M684.3,215.2 h-2.5 M465.9,201.7 h-4.6 M684.3,201.7 h-4.6 M465.9,188.3 h-2.5 M684.3,188.3 h-2.5 M465.9,174.8 h-4.6 M684.3,174.8 h-4.6 M465.9,161.4 h-2.5 M684.3,161.4 h-2.5 M465.9,147.9 h-4.6 M684.3,147.9 h-4.6 M465.9,134.5 h-2.5 M684.3,134.5 h-2.5 M465.9,121.0 h-4.6 M684.3,121.0 h-4.6 M465.9,107.6 h-2.5 M684.3,107.6 h-2.5 M465.9,94.1 h-4.6 M684.3,94.1 h-4.6 M465.9,80.7 h-2.5 M684.3,80.7 h-2.5 M465.9,67.2 h-4.6 M684.3,67.2 h-4.6 M465.9,53.8 h-2.5 M684.3,53.8 h-2.5 M465.9,40.3 h-4.6 M684.3,40.3 h-4.6"/>
</g>
<g fill="none" stroke="#000" stroke-width="1.75">
<circle cx="479.0" cy="62.7" r="2.6"/>
<circle cx="479.0" cy="64.7" r="2.6"/>
<circle cx="479.0" cy="67.2" r="2.6"/>
<circle cx="479.0" cy="82.7" r="2.6"/>
<circle cx="522.7" cy="54.2" r="2.6"/>
<circle cx="522.7" cy="69.9" r="2.6"/>
<circle cx="522.7" cy="104.7" r="2.6"/>
<circle cx="522.7" cy="126.7" r="2.6"/>
<circle cx="566.4" cy="110.3" r="2.6"/>
<circle cx="566.4" cy="118.7" r="2.6"/>
<circle cx="566.4" cy="122.5" r="2.6"/>
<circle cx="566.4" cy="133.7" r="2.6"/>
<circle cx="610.1" cy="99.2" r="2.6"/>
<circle cx="610.1" cy="105.1" r="2.6"/>
<circle cx="610.1" cy="120.2" r="2.6"/>
<circle cx="610.1" cy="166.6" r="2.6"/>
<circle cx="653.8" cy="187.8" r="2.6"/>
<circle cx="653.8" cy="195.9" r="2.6"/>
<circle cx="653.8" cy="198.4" r="2.6"/>
</g>
<g font-size="13.2" font-weight="bold" fill="#000" stroke="#000" stroke-width="0.3" stroke-linejoin="round">
<text x="458.4" y="205.3" text-anchor="end">0.0</text>
<text x="458.4" y="178.4" text-anchor="end">0.2</text>
<text x="458.4" y="151.5" text-anchor="end">0.4</text>
<text x="458.4" y="124.6" text-anchor="end">0.6</text>
<text x="458.4" y="97.7" text-anchor="end">0.8</text>
<text x="458.4" y="70.8" text-anchor="end">1.0</text>
<text x="458.4" y="43.9" text-anchor="end">1.2</text>
<text x="479.1" y="235.2" text-anchor="middle">10<tspan font-size="9.2" dy="-5.9">−10</tspan></text>
<text x="522.8" y="235.2" text-anchor="middle">10<tspan font-size="9.2" dy="-5.9">−9</tspan></text>
<text x="566.5" y="235.2" text-anchor="middle">10<tspan font-size="9.2" dy="-5.9">−8</tspan></text>
<text x="610.2" y="235.2" text-anchor="middle">10<tspan font-size="9.2" dy="-5.9">−7</tspan></text>
<text x="653.9" y="235.2" text-anchor="middle">10<tspan font-size="9.2" dy="-5.9">−6</tspan></text>
</g>
<g font-size="16.55" font-weight="bold" fill="#000" stroke="#000" stroke-width="0.3" stroke-linejoin="round">
<text x="575.2" y="258.1" text-anchor="middle">Concentration (M)</text>
<text transform="translate(433.0,140) rotate(-90)" text-anchor="middle">Normalized Wavelength Shift</text>
</g>
</svg>
</body></html>
